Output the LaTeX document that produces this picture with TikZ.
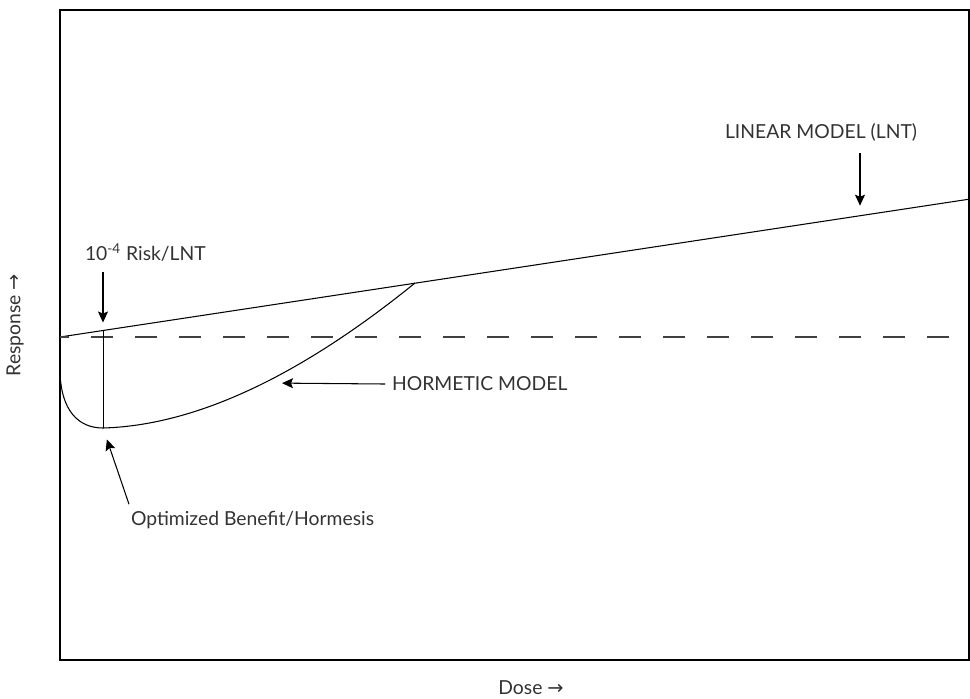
\documentclass[tikz,border=0pt]{standalone}
\usepackage{fontspec}
\setmainfont{Lato}
\newfontfamily\arrowfont{DejaVu Sans}
\usetikzlibrary{arrows.meta,positioning}
\tikzstyle{every label text} = []
\tikzstyle{lbl} = [font=\fontsize{11}{13}\selectfont, text=black!80, inner sep=1pt, outer sep=3pt, every label text]
\tikzstyle{pointer} = [-{Stealth[length=0.22cm,width=0.2cm,inset=0.04cm]}, line width=0.6pt]

\begin{document}
\begin{tikzpicture}[x=0.02cm,y=-0.02cm]
        \useasboundingbox (0,0) rectangle (970,698);
        \tikzstyle{curve} = [line width=0.6pt]

        \draw[curve] (60,10) rectangle (969,660);

        \coordinate (origen) at (60,337);
        \coordinate (fin) at (969,199.2);
        \coordinate (cruce) at (415,283);
        \coordinate (inicio) at (60,372);
        \coordinate (minimo) at (103,428);
        \coordinate (riesgo) at (103,330.5);
        \coordinate (lntpt) at (860,215.7);
        \coordinate (hormpt) at (270,383);
        \coordinate (umbral) at (950,337);

        % lineal y umbral
        \draw[curve] (origen) -- (fin);
        \draw[line width=0.6pt, black!75, dash pattern=on 0.44cm off 0.44cm, dash phase=0.26cm] (origen) -- (umbral);

        % curva hormetica
        \draw[curve] (inicio) .. controls (61,410) and (78,428) .. (minimo)
            .. controls (210,425) and (320,360) .. (cruce);
        \draw[line width=0.5pt] (riesgo) -- (minimo);

        \node[lbl, anchor=west] (riesgotxt) at (78,253) {10\textsuperscript{-4} Risk/LNT};
        \draw[pointer, shorten >=0.16cm] ([yshift=-0.06cm]riesgotxt.south -| riesgo) -- (riesgo);

        \node[lbl] (linealtxt) at (821,132) {LINEAR MODEL (LNT)};
        \draw[pointer, shorten >=0.2cm] ([yshift=-0.1cm]linealtxt.south -| lntpt) -- (lntpt);

        \node[lbl, anchor=west] (hormtxt) at (385,384) {HORMETIC MODEL};
        \draw[pointer, shorten >=0.24cm] (hormtxt.west) -- (hormpt);

        \node[lbl, anchor=west] (opttxt) at (124,520) {Optimized Benefit/Hormesis};
        \draw[pointer, shorten >=0.24cm] ([xshift=0.1cm]opttxt.north west) -- (minimo);

        \node[lbl, rotate=90] (respuesta) at (15,325) {Response {\arrowfont →}};
        \node[lbl] (dosis) at (531,688) {Dose {\arrowfont →}};
\end{tikzpicture}
\end{document}
